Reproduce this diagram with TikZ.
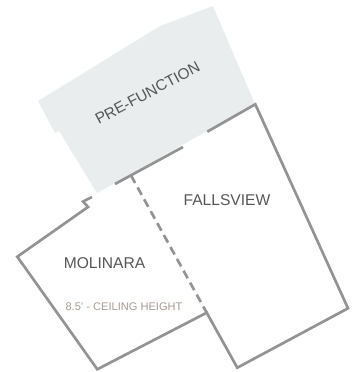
\documentclass[tikz,border=0pt]{standalone}
\usepackage{fontspec}
\setmainfont{Liberation Sans}
\definecolor{wallc}{HTML}{939396}
\definecolor{fillc}{HTML}{E9EDEE}
\definecolor{labelc}{HTML}{555557}
\definecolor{subc}{HTML}{A89A92}
\tikzset{
  wall/.style={draw=wallc,line width=2pt,line cap=butt,line join=miter},
  roomlabel/.style={text=labelc,font=\fontsize{11.7pt}{13pt}\selectfont,inner sep=0pt},
  sublabel/.style={text=subc,font=\fontsize{8.3pt}{10pt}\selectfont,inner sep=0pt}
}
\begin{document}
\begin{tikzpicture}[x=0.75pt,y=-0.75pt]
\useasboundingbox (0,0) rectangle (356,372);
\fill[fillc] (38,101) -- (160,26) -- (213,6) -- (255,104) -- (97,193) -- (59,131) -- (55,133) -- cycle;
\coordinate (a1) at (255.3,104.3);
\coordinate (a2) at (207.3,131.7);
\coordinate (b1) at (183,147);
\coordinate (b2) at (115,184);
\coordinate (dj) at (131,175.5);
\coordinate (c3) at (92,197);
\coordinate (c4) at (83,201.5);
\coordinate (c5) at (88,207);
\coordinate (d1) at (17.3,256.7);
\coordinate (d2) at (97.3,369.3);
\coordinate (d3) at (206.7,312.7);
\coordinate (d4) at (237.3,367.7);
\coordinate (d5) at (348,308.3);
\draw[wall] (a2) -- (a1) -- (d5) -- (d4) -- (d3) -- (d2) -- (d1) -- (c5) -- (c4) -- (c3);
\draw[wall] (b1) -- (b2);
\draw[wall,dash pattern=on 6.4pt off 3.8pt] (dj) -- (d3);
\node[roomlabel,rotate=28,font=\fontsize{11.5pt}{13pt}\selectfont] (pf) at (147.5,93) {PRE-FUNCTION};
\node[roomlabel] (fv) at (227,200) {FALLSVIEW};
\node[roomlabel] (mo) at (104.5,263) {MOLINARA};
\node[sublabel] (ch) at (124,306.7) {8.5' - CEILING HEIGHT};
\end{tikzpicture}
\end{document}
